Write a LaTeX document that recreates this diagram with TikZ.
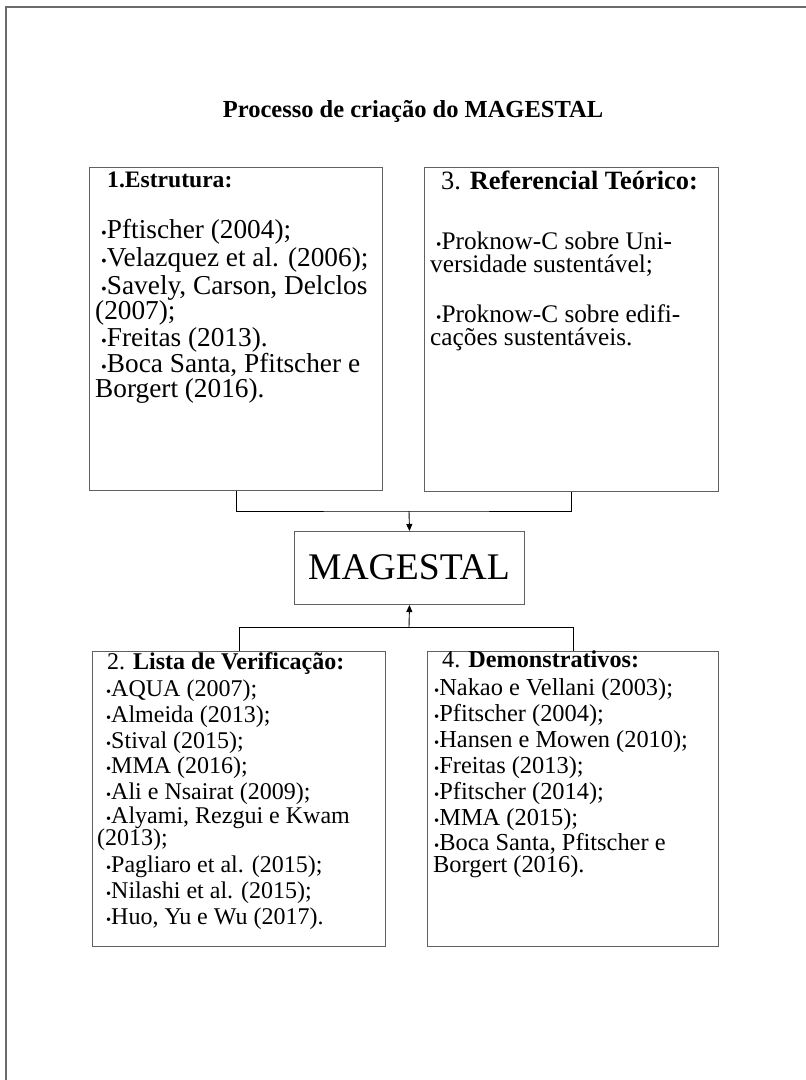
\documentclass[tikz,border=0pt]{standalone}
\usepackage{fontspec}
\usepackage{graphicx}
\setmainfont{Liberation Serif}
\usetikzlibrary{arrows.meta}
\newcommand\bul{\scalebox{0.6}{•}}
\newcommand\fA{\fontsize{27.3}{28}\selectfont}
\newcommand\fB{\fontsize{25.3}{26}\selectfont}
\newcommand\fC{\fontsize{24}{25}\selectfont}
\newcommand\fD{\fontsize{24.4}{25}\selectfont}
% two-line item: #1 line distance, #2 indent of first line, #3 first line, #4 second line
\newcommand\wrapitem[4]{\vtop{\baselineskip=#1\relax\lineskiplimit=-1000pt\relax
  \hbox{\hspace*{#2}#3}\hbox{#4}}}
\definecolor{frame}{gray}{0.42}
\definecolor{boxline}{gray}{0.38}
\tikzset{
  box/.style={draw=boxline, line width=1pt, anchor=north west, inner sep=0pt},
  txt/.style={anchor=base west, inner sep=0pt},
  conn/.style={draw=black, line width=0.9pt},
  arr/.style={conn, -{Triangle[length=7pt,width=6pt]}}
}
\begin{document}
\begin{tikzpicture}[x=1pt,y=-1pt]
\useasboundingbox (0,0) rectangle (806,1080);
% outer page frame
\draw[frame, line width=1.6pt] (6,1080) -- (6,7) -- (806,7);
% title
\node[anchor=base, inner sep=0pt, font=\fontsize{24.5}{26}\selectfont\bfseries] (title) at (413,117) {Processo de criação do MAGESTAL};
% boxes
\node[box, minimum width=293pt, minimum height=323pt] (b1) at (89,167) {};
\node[box, minimum width=294pt, minimum height=324pt] (b3) at (424,167) {};
\node[box, minimum width=230pt, minimum height=73pt] (mag) at (294,531) {};
\node[inner sep=0pt, anchor=base, font=\fontsize{37.6}{38}\selectfont] (magt) at (409,579) {MAGESTAL};
\node[box, minimum width=293pt, minimum height=295pt] (b2) at (92,651) {};
\node[box, minimum width=291pt, minimum height=295pt] (b4) at (427,651) {};
% connectors
\coordinate (j1) at (409,511);
\coordinate (j2) at (409,627);
\draw[conn] (b1.south) |- (j1) -| (b3.south);
\draw[arr] (j1) -- (mag.north);
\draw[conn] (b2.north) |- (j2) -| (b4.north);
\draw[arr] (j2) -- (mag.south);
% box 1
\node[txt, font=\fontsize{23.6}{25}\selectfont\bfseries] (h1) at (107,187) {1.Estrutura:};
\node[txt, font=\fA] (b1l1) at (101,238) {\bul Pftischer (2004);};
\node[txt, font=\fA] (b1l2) at (101,266) {\bul Velazquez et al. (2006);};
\node[txt, font=\fA] (b1l3) at (95,294) {\wrapitem{25pt}{6pt}{\bul Savely, Carson, Delclos}{(2007);}};
\node[txt, font=\fA] (b1l5) at (101,346) {\bul Freitas (2013).};
\node[txt, font=\fA] (b1l6) at (95,372) {\wrapitem{25pt}{6pt}{\bul Boca Santa, Pfitscher e}{Borgert (2016).}};
% box 3
\node[txt, font=\fontsize{26.4}{27}\selectfont] (h3) at (441,189) {3. \textbf{Referencial Teórico:}};
\node[txt, font=\fB] (b3l1) at (430,249) {\wrapitem{23pt}{6pt}{\bul Proknow-C sobre Uni-}{versidade sustentável;}};
\node[txt, font=\fB] (b3l3) at (430,322) {\wrapitem{23pt}{6pt}{\bul Proknow-C sobre edifi-}{cações sustentáveis.}};
% box 2
\node[txt, font=\fC] (h2) at (107,669) {2. \textbf{Lista de Verificação:}};
\node[txt, font=\fC] (b2l1) at (106,696) {\bul AQUA (2007);};
\node[txt, font=\fC] (b2l2) at (106,722) {\bul Almeida (2013);};
\node[txt, font=\fC] (b2l3) at (106,748) {\bul Stival (2015);};
\node[txt, font=\fC] (b2l4) at (106,773) {\bul MMA (2016);};
\node[txt, font=\fC] (b2l5) at (106,799) {\bul Ali e Nsairat (2009);};
\node[txt, font=\fC] (b2l6) at (97,823) {\wrapitem{22pt}{9pt}{\bul Alyami, Rezgui e Kwam}{(2013);}};
\node[txt, font=\fC] (b2l8) at (106,872) {\bul Pagliaro et al. (2015);};
\node[txt, font=\fC] (b2l9) at (106,898) {\bul Nilashi et al. (2015);};
\node[txt, font=\fC] (b2l10) at (106,924) {\bul Huo, Yu e Wu (2017).};
% box 4
\node[txt, font=\fontsize{24.2}{25}\selectfont] (h4) at (442,667) {4. \textbf{Demonstrativos:}};
\node[txt, font=\fD] (b4l1) at (434,695) {\bul Nakao e Vellani (2003);};
\node[txt, font=\fD] (b4l2) at (434,721) {\bul Pfitscher (2004);};
\node[txt, font=\fD] (b4l3) at (434,747) {\bul Hansen e Mowen (2010);};
\node[txt, font=\fD] (b4l4) at (434,773) {\bul Freitas (2013);};
\node[txt, font=\fD] (b4l5) at (434,799) {\bul Pfitscher (2014);};
\node[txt, font=\fD] (b4l6) at (434,825) {\bul MMA (2015);};
\node[txt, font=\fD] (b4l7) at (433,850) {\wrapitem{22pt}{1pt}{\bul Boca Santa, Pfitscher e}{Borgert (2016).}};
\end{tikzpicture}
\end{document}
